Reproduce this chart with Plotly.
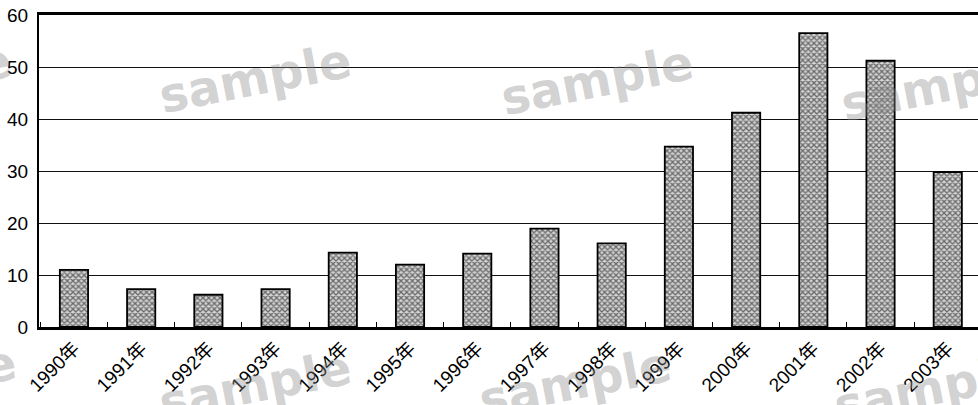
import plotly.graph_objects as go

years = ["1990年", "1991年", "1992年", "1993年", "1994年", "1995年", "1996年",
         "1997年", "1998年", "1999年", "2000年", "2001年", "2002年", "2003年"]
values = [11.0, 7.3, 6.2, 7.3, 14.3, 12.0, 14.1, 18.9, 16.1, 34.7, 41.2, 56.5, 51.2, 29.8]
y_ticks = [0, 10, 20, 30, 40, 50, 60]

FONT = "Liberation Sans, Arial, Noto Sans CJK JP, sans-serif"

W, H = 978, 405
ML, MR, MT, MB = 39, 0, 15, 78
PW, PH = W - ML - MR, H - MT - MB

fig = go.Figure()
fig.add_trace(go.Bar(
    x=years, y=values,
    marker=dict(
        color="#ffffff",
        line=dict(color="#000", width=1.8),
        pattern=dict(shape="x", size=4, solidity=0.55, fgcolor="#000", bgcolor="#d4d4d4"),
    ),
    width=0.42,
    hoverinfo="skip",
))

# watermark text (page pixel positions -> plot-area paper coords)
wm_positions = [(-85, 78), (255, 78), (597, 80), (937, 86),
                (-80, 380), (255, 385), (575, 382), (930, 388)]
for (px, py) in wm_positions:
    fig.add_annotation(
        x=(px - ML) / PW, y=(H - MB - py) / PH, xref="paper", yref="paper",
        text="<b>sample</b>", showarrow=False, textangle=-11,
        font=dict(family="DejaVu Sans", size=48, color="rgba(140,140,140,0.40)"),
        xanchor="center", yanchor="middle",
    )

fig.update_layout(
    width=W, height=H,
    margin=dict(l=ML, r=MR, t=MT, b=MB, autoexpand=False),
    paper_bgcolor="white", plot_bgcolor="white",
    showlegend=False,
    font=dict(family=FONT, size=18, color="#000"),
    xaxis=dict(
        range=[-0.52, 13.45],
        showline=True, linecolor="#000", linewidth=2.5, mirror=True,
        ticks="inside", ticklen=5, tickwidth=1.2, tickcolor="#000",
        tickson="boundaries",
        tickangle=-45,
        showgrid=False, zeroline=False, automargin=False,
        tickfont=dict(family=FONT, size=19),
    ),
    yaxis=dict(
        range=[0, 60],
        tickvals=y_ticks,
        ticktext=[str(v) for v in y_ticks],
        showline=True, linecolor="#000", linewidth=2.2,
        showgrid=True, gridcolor="#111", gridwidth=1.2,
        zeroline=False, ticks="", ticklabelstandoff=5, automargin=False,
        tickfont=dict(family=FONT, size=19),
    ),
)

fig.write_html(
    "out.html",
    config={"displayModeBar": False},
    post_script="document.body.style.margin='0px';document.body.style.overflow='hidden';",
)
